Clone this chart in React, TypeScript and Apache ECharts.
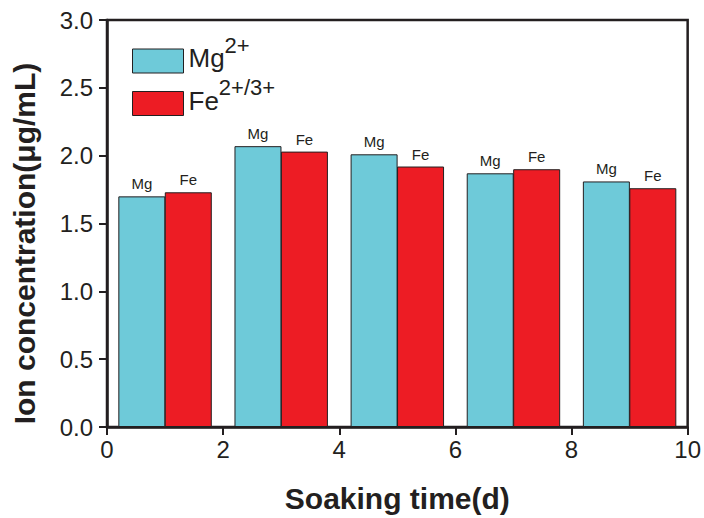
import React, { useEffect, useRef } from "react";
import * as echarts from "echarts";

const mgX = [0.6, 2.6, 4.6, 6.6, 8.6];
const feX = [1.4, 3.4, 5.4, 7.4, 9.4];
const mgValues = [1.70, 2.07, 2.01, 1.87, 1.81];
const feValues = [1.73, 2.03, 1.92, 1.90, 1.76];
const xTicks = [0, 2, 4, 6, 8, 10];
const yTicks = [0, 0.5, 1.0, 1.5, 2.0, 2.5, 3.0];

const MG_COLOR = "#6ECAD9";
const FE_COLOR = "#ED1C24";
const DARK = "#231F20";
const FONT = "'Liberation Sans', Arial, sans-serif";

export default function App() {
  const ref = useRef<HTMLDivElement>(null);
  useEffect(() => {
    if (!ref.current) return;
    const chart = echarts.init(ref.current, null, { renderer: "svg" });
    const labelStyle = (txt: string) => ({
      show: true,
      position: "top" as const,
      distance: 5,
      formatter: txt,
      fontSize: 15,
      fontFamily: FONT,
      color: DARK,
    });
    chart.setOption({
      animation: false,
      backgroundColor: "#fff",
      grid: {
        left: 107,
        right: 14,
        top: 20,
        bottom: 91,
        show: true,
        borderColor: DARK,
        borderWidth: 2.5,
        containLabel: false,
      },
      legend: {
        orient: "vertical",
        left: 132,
        top: 34,
        padding: 0,
        icon: "rect",
        itemWidth: 51,
        itemHeight: 24,
        itemGap: 3,
        selectedMode: false,
        data: [
          { name: "Mg", itemStyle: { color: MG_COLOR, borderColor: DARK, borderWidth: 1 } },
          { name: "Fe", itemStyle: { color: FE_COLOR, borderColor: DARK, borderWidth: 1 } },
        ],
        formatter: (name: string) =>
          name === "Mg" ? "{b|Mg}{s|2+}" : "{b|Fe}{s|2+/3+}",
        textStyle: {
          rich: {
            b: { fontSize: 26, fontFamily: FONT, color: DARK, padding: [0, 0, 6, 0], verticalAlign: "middle" },
            s: { fontSize: 22, fontFamily: FONT, color: DARK, padding: [0, 0, 32, 0], verticalAlign: "middle" },
          },
        },
      },
      xAxis: {
        type: "value",
        min: 0,
        max: 10,
        interval: 2,
        name: "Soaking time(d)",
        nameLocation: "middle",
        nameGap: 56,
        nameTextStyle: { fontSize: 30, fontWeight: "bold", fontFamily: FONT, color: DARK },
        axisLine: { show: true, onZero: false, lineStyle: { color: DARK, width: 2.5 } },
        axisTick: { show: true, inside: false, length: 8, lineStyle: { color: DARK, width: 2 } },
        axisLabel: {
          fontSize: 24,
          fontFamily: FONT,
          color: DARK,
          margin: 10,
          formatter: (v: number) => (xTicks.includes(v) ? String(v) : ""),
        },
        splitLine: { show: false },
      },
      yAxis: {
        type: "value",
        min: 0,
        max: 3,
        interval: 0.5,
        name: "Ion concentration(μg/mL)",
        nameLocation: "middle",
        nameGap: 68,
        nameTextStyle: {
          fontSize: 30,
          fontWeight: "bold",
          fontFamily: FONT,
          color: DARK,
          padding: [0, 40, 0, 0],
        },
        axisLine: { show: true, lineStyle: { color: DARK, width: 2.5 } },
        axisTick: { show: true, inside: false, length: 8, lineStyle: { color: DARK, width: 2 } },
        axisLabel: {
          fontSize: 24,
          fontFamily: FONT,
          color: DARK,
          margin: 14,
          formatter: (v: number) => (yTicks.includes(v) ? v.toFixed(1) : ""),
        },
        splitLine: { show: false },
      },
      series: [
        {
          name: "Mg",
          type: "bar",
          barWidth: 47,
          barGap: "-100%",
          data: mgX.map((x, i) => [x, mgValues[i]]),
          itemStyle: { color: MG_COLOR, borderColor: DARK, borderWidth: 1 },
          label: labelStyle("Mg"),
        },
        {
          name: "Fe",
          type: "bar",
          barWidth: 47,
          barGap: "-100%",
          data: feX.map((x, i) => [x, feValues[i]]),
          itemStyle: { color: FE_COLOR, borderColor: DARK, borderWidth: 1 },
          label: labelStyle("Fe"),
        },
      ],
    });
    return () => chart.dispose();
  }, []);
  return <div ref={ref} style={{ width: 704, height: 518, position: "absolute", left: 0, top: 0 }} />;
}
